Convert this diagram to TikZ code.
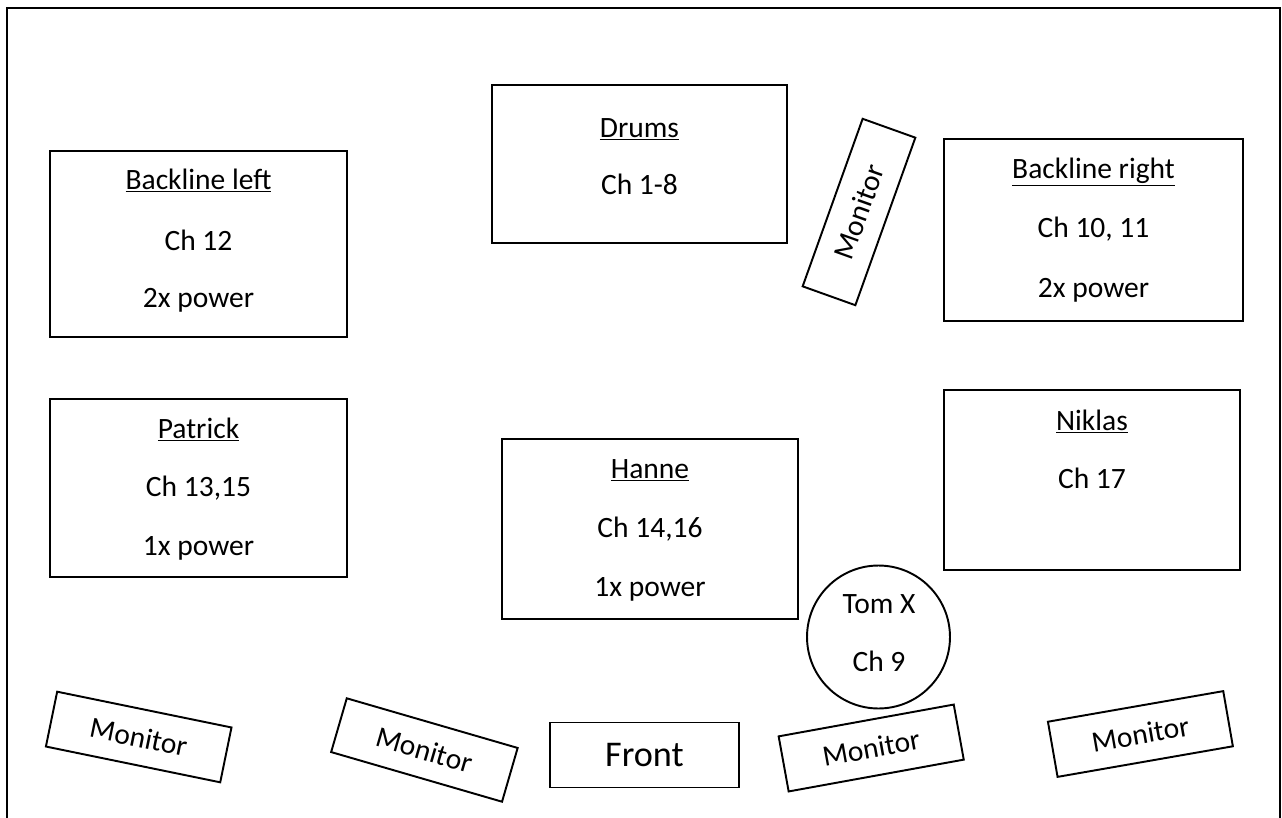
\documentclass[tikz,border=0pt]{standalone}
\usepackage{fontspec}
\setmainfont{Carlito}

\tikzset{
	area/.style = {draw, line width = 1.1pt, inner sep = 0pt},
	lbl/.style = {font = \fontsize{16.8}{20}\selectfont, anchor = base, inner sep = 0pt},
	mon/.style = {draw, line width = 1.1pt, minimum width = 3.56cm, minimum height = 1.12cm, font = \fontsize{16.8}{20}\selectfont},
}

\begin{document}
\begin{tikzpicture}[x = 0.02cm, y = -0.02cm]
	\useasboundingbox (0,0) rectangle (1282,818);
	
	% stage frame
	\draw[line width = 1.1pt] (7,830) -- (7,8) -- (1280,8) -- (1280,830);
	
	% Drums
	\node[area, minimum width = 5.9cm, minimum height = 3.16cm] (drums) at (639.5,164) {};
	\node[lbl] (drumsname) at (639.5,137) {\underline{Drums}};
	\node[lbl] (drumsch) at (639.5,194) {Ch 1-8};
	
	% Backline left
	\node[area, minimum width = 5.94cm, minimum height = 3.72cm] (bleft) at (198.5,244) {};
	\node[lbl] (bleftname) at (198.5,189) {\underline{Backline left}};
	\node[lbl] (bleftch) at (198.5,250) {Ch 12};
	\node[lbl] (bleftpw) at (198.5,307) {2x power};
	
	% Backline right
	\node[area, minimum width = 5.98cm, minimum height = 3.64cm] (bright) at (1093.5,230) {};
	\node[lbl] (brightname) at (1093.5,178) {\underline{Backline right}};
	\node[lbl] (brightch) at (1093.5,237) {Ch 10, 11};
	\node[lbl] (brightpw) at (1093.5,297) {2x power};
	
	% Patrick
	\node[area, minimum width = 5.94cm, minimum height = 3.56cm] (patrick) at (198.5,488) {};
	\node[lbl] (patrickname) at (198.5,438) {\underline{Patrick}};
	\node[lbl] (patrickch) at (198.5,496) {Ch 13,15};
	\node[lbl] (patrickpw) at (198.5,555) {1x power};
	
	% Hanne
	\node[area, minimum width = 5.92cm, minimum height = 3.6cm] (hanne) at (650,529) {};
	\node[lbl] (hannename) at (650,478) {\underline{Hanne}};
	\node[lbl] (hannech) at (650,537) {Ch 14,16};
	\node[lbl] (hannepw) at (650,596) {1x power};
	
	% Niklas
	\node[area, minimum width = 5.92cm, minimum height = 3.6cm] (niklas) at (1092,480) {};
	\node[lbl] (niklasname) at (1092,430) {\underline{Niklas}};
	\node[lbl] (niklasch) at (1092,488) {Ch 17};
	
	% Tom X
	\node[area, circle, minimum size = 2.86cm] (tom) at (878.5,637) {};
	\node[lbl] (tomname) at (879,613) {Tom X};
	\node[lbl] (tomch) at (879,671) {Ch 9};
	
	% Front
	\node[area, minimum width = 3.78cm, minimum height = 1.3cm, font = \fontsize{20.6}{24}\selectfont] (front) at (644.5,755) {Front};
	
	% Monitors
	\node[mon, rotate = 70.3] (montop) at (859,212) {Monitor};
	\node[mon, rotate = -11.6] (monA) at (138.7,737) {Monitor};
	\node[mon, rotate = -16.2] (monB) at (424.4,750) {Monitor};
	\node[mon, rotate = 10.3] (monC) at (871.2,748) {Monitor};
	\node[mon, rotate = 9.9] (monD) at (1140.4,734) {Monitor};
	
\end{tikzpicture}
\end{document}
